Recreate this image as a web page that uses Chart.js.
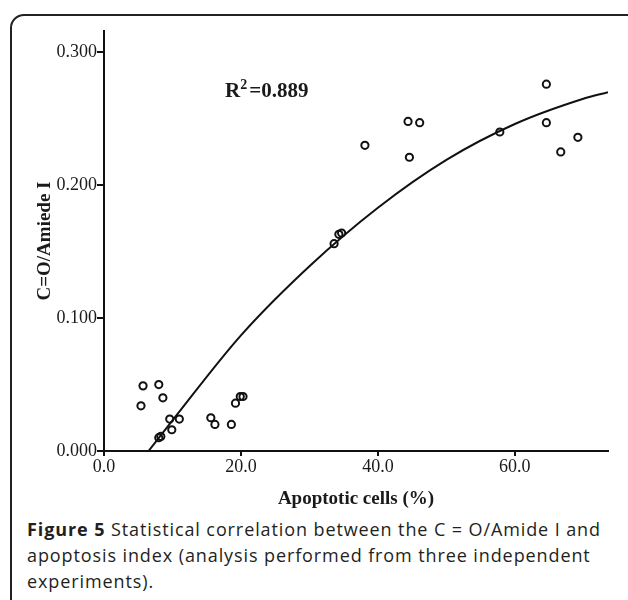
<!DOCTYPE html>
<html>
<head>
<meta charset="utf-8">
<script src="https://cdn.jsdelivr.net/npm/chart.js@4/dist/chart.umd.min.js"></script>
<style>
  body { margin: 0; background: #fff; width: 628px; height: 600px; overflow: hidden; position: relative; }
  .frame { position: absolute; left: 10px; top: 14px; width: 640px; height: 620px; border: 2px solid #222; border-radius: 14px; box-sizing: border-box; }
  #wrap { position: absolute; left: 0; top: 0; width: 628px; height: 510px; }
  .r2 { position: absolute; left: 225px; top: 80px; font: bold 21px "Liberation Serif"; line-height: 21px; color: #1a1a1a; white-space: nowrap; }
  .r2 sup { font-size: 14px; vertical-align: 8px; line-height: 0; margin-right: 2px; }
  .caption { position: absolute; left: 27px; top: 517px; font: 18px "Open Sans"; letter-spacing: 0.9px; line-height: 25.8px; color: #231f20; white-space: nowrap; }
  .caption b { font-weight: bold; }
</style>
</head>
<body>
<div class="frame"></div>
<div id="wrap"><canvas id="grafica"></canvas></div>
<div class="r2">R<sup>2</sup>=0.889</div>
<div class="caption"><b>Figure 5</b> Statistical correlation between the C = O/Amide I and<br>apoptosis index (analysis performed from three independent<br>experiments).</div>
<script>
// puntos medidos
var apoptoticas = [64.6, 44.4, 46.1, 38.1, 44.6, 57.8, 64.6, 66.7, 69.2, 33.6, 34.3, 34.7,
  5.7, 8.0, 5.4, 8.6, 9.6, 11.0, 9.9, 8.0, 8.3, 15.6, 16.2, 18.6, 19.2, 19.9, 20.3];
var cociente = [0.276, 0.248, 0.247, 0.230, 0.221, 0.240, 0.247, 0.225, 0.236, 0.156, 0.163, 0.164,
  0.049, 0.050, 0.034, 0.040, 0.024, 0.024, 0.016, 0.010, 0.011, 0.025, 0.020, 0.020, 0.036, 0.041, 0.041];

// curva de ajuste
var ajusteX = [6.5, 10, 20, 30, 40, 50, 60, 70, 73.6];
var ajusteY = [0.000, 0.023, 0.087, 0.139, 0.183, 0.219, 0.246, 0.265, 0.270];

var ticksX = [0, 20, 40, 60];
var ticksY = [0, 0.1, 0.2, 0.3];

var puntos = apoptoticas.map(function(x, i) { return {x: x, y: cociente[i]}; });
var curva = ajusteX.map(function(x, i) { return {x: x, y: ajusteY[i]}; });

Chart.defaults.font.family = "Liberation Serif";
Chart.defaults.color = "#1a1a1a";

var ctx = document.getElementById("grafica").getContext("2d");
var grafica = new Chart(ctx, {
  type: 'scatter',
  data: {
    datasets: [{
      label: 'Puntos',
      data: puntos,
      pointRadius: 3.6,
      pointBorderWidth: 2,
      pointBorderColor: '#111',
      pointBackgroundColor: 'rgba(0,0,0,0)'
    }, {
      label: 'Ajuste',
      data: curva,
      showLine: true,
      pointRadius: 0,
      borderColor: '#111',
      borderWidth: 2,
      cubicInterpolationMode: 'monotone'
    }]
  },
  options: {
    responsive: true,
    maintainAspectRatio: false,
    animation: false,
    layout: { padding: { top: 31, right: 20, left: 0, bottom: 0 } },
    plugins: { legend: { display: false }, tooltip: { enabled: false } },
    scales: {
      x: {
        min: 0, max: 73.6,
        afterFit: function(s) { s.height = 59; },
        afterBuildTicks: function(s) { s.ticks = ticksX.map(function(v) { return {value: v}; }); },
        ticks: { font: { size: 18 }, padding: 0, maxRotation: 0,
          callback: function(v) { return v.toFixed(1); } },
        grid: { drawOnChartArea: false, drawTicks: true, tickLength: 5, color: '#111', lineWidth: 2 },
        border: { display: true, color: '#111', width: 2 },
        title: { display: true, text: 'Apoptotic cells (%)', font: { size: 19, weight: 'bold' }, padding: { top: 5.5, bottom: 0 } }
      },
      y: {
        min: 0, max: 0.316,
        afterFit: function(s) { s.width = 104; },
        afterBuildTicks: function(s) { s.ticks = ticksY.map(function(v) { return {value: v}; }); },
        ticks: { font: { size: 18 }, padding: 0,
          callback: function(v) { return v.toFixed(3); } },
        grid: { drawOnChartArea: false, drawTicks: true, tickLength: 7, color: '#111', lineWidth: 2 },
        border: { display: true, color: '#111', width: 2 },
        title: { display: true, text: 'C=O/Amiede I', font: { size: 19, weight: 'bold' }, padding: { top: 33.6, bottom: 0 } }
      }
    }
  }
});
</script>
</body>
</html>
